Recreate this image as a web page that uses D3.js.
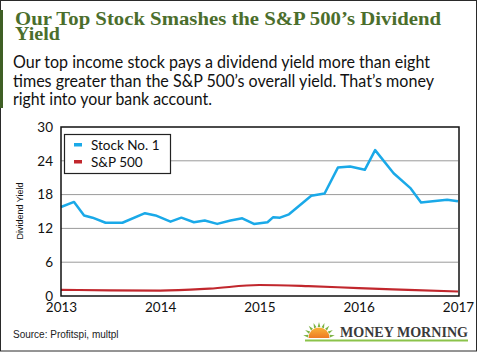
<!DOCTYPE html>
<html>
<head>
<meta charset="utf-8">
<script src="https://cdn.jsdelivr.net/npm/d3@7"></script>
<style>
  body { margin: 0; background: #fff; }
  svg { display: block; }
</style>
</head>
<body>
<div class="container"></div>
<script>
// dates of the points for Stock No. 1
var stockDates = ['2013-01-01', '2013-02-18', '2013-03-27', '2013-04-27', '2013-06-14', '2013-08-15',
    '2013-11-06', '2013-12-15', '2014-02-08', '2014-03-20', '2014-05-05', '2014-06-14',
    '2014-07-30', '2014-09-17', '2014-10-30', '2014-12-12', '2015-01-31', '2015-02-21',
    '2015-03-18', '2015-04-20', '2015-07-11', '2015-08-29', '2015-10-17', '2015-12-01',
    '2016-01-24', '2016-03-02', '2016-05-09', '2016-07-11', '2016-08-18', '2016-09-30',
    '2016-11-22', '2017-01-01'];
var stockValues = [15.8, 16.7, 14.3, 13.9, 13.0, 13.0,
    14.7, 14.3, 13.2, 13.9, 13.1, 13.4,
    12.8, 13.4, 13.8, 12.8, 13.1, 14.0,
    13.9, 14.5, 17.8, 18.2, 22.8, 23.0,
    22.4, 25.9, 21.8, 19.1, 16.6, 16.8,
    17.1, 16.8];

var spDates = ['2013-01-01', '2013-07-01', '2014-01-01', '2014-07-01', '2015-01-01',
    '2015-07-01', '2016-01-01', '2016-07-01', '2017-01-01'];
var spValues = [1.1, 1.0, 0.95, 1.3, 1.95, 1.75, 1.4, 1.1, 0.8];

var yTicks = [0, 6, 12, 18, 24, 30];
var xTickLabels = ['2013', '2014', '2015', '2016', '2017'];
var seriesNames = ['Stock No. 1', 'S&P 500'];

const WIDTH = 480;
const HEIGHT = 352;
const LEFT = 61, RIGHT = 458, TOP = 127, BOTTOM = 296;

let parse = d3.timeParse('%Y-%m-%d');
let translate = (x, y) => `translate(${x},${y})`;

let xScale = d3.scaleTime()
    .domain([parse('2013-01-01'), parse('2017-01-01')])
    .range([LEFT, RIGHT]);

let yScale = d3.scaleLinear()
    .domain([0, 30])
    .range([BOTTOM, TOP]);

let svg = d3.select('.container').append('svg')
    .attr('width', WIDTH)
    .attr('height', HEIGHT);

// frame + green accent bar
svg.append('rect')
    .attr('x', 0.5).attr('y', 0.5)
    .attr('width', 476).attr('height', 350.5)
    .attr('fill', 'none').attr('stroke', '#2a2a2a').attr('stroke-width', 1);
svg.append('rect')
    .attr('x', 0).attr('y', 10).attr('width', 3).attr('height', 98)
    .attr('fill', '#3f5f25');

// title
let title = svg.append('g')
    .attr('font-family', 'Liberation Serif, DejaVu Serif, serif')
    .attr('font-weight', 'bold')
    .attr('font-size', 19)
    .attr('fill', '#4b6e2c');
title.append('text').attr('x', 15).attr('y', 25)
    .attr('textLength', 426).attr('lengthAdjust', 'spacingAndGlyphs')
    .text('Our Top Stock Smashes the S&P 500’s Dividend');
title.append('text').attr('x', 15).attr('y', 40)
    .attr('textLength', 45).attr('lengthAdjust', 'spacingAndGlyphs')
    .text('Yield');

// subtitle
let subLines = [
    ['Our top income stock pays a dividend yield more than eight', 417, 68],
    ['times greater than the S&P 500’s overall yield. That’s money', 421, 86.5],
    ['right into your bank account.', 199, 105]
];
svg.append('g')
    .attr('font-family', 'Lato, Open Sans, sans-serif')
    .attr('font-size', 16.5)
    .attr('fill', '#111')
    .selectAll('text')
    .data(subLines)
    .enter().append('text')
    .attr('x', 13)
    .attr('y', d => d[2])
    .attr('textLength', d => d[1])
    .attr('lengthAdjust', 'spacingAndGlyphs')
    .text(d => d[0]);

// gridlines
svg.append('g').selectAll('line')
    .data(yTicks.filter(t => t > 0 && t < 30))
    .enter().append('line')
    .attr('x1', LEFT).attr('x2', RIGHT)
    .attr('y1', d => yScale(d)).attr('y2', d => yScale(d))
    .attr('stroke', '#9a9a9a').attr('stroke-width', 1);

// y axis labels
let yAxis = d3.axisLeft(yScale).tickValues(yTicks).tickSize(0).tickPadding(8);
svg.append('g')
    .attr('transform', translate(LEFT, 0))
    .call(yAxis)
    .call(g => g.select('.domain').remove())
    .selectAll('text')
    .attr('font-family', 'Lato, Open Sans, sans-serif')
    .attr('font-size', 13.5)
    .attr('fill', '#111');

// x axis labels
let xAxis = d3.axisBottom(xScale)
    .tickValues(xTickLabels.map(y => parse(y + '-01-01')))
    .tickFormat(d3.timeFormat('%Y'))
    .tickSize(0).tickPadding(6);
svg.append('g')
    .attr('transform', translate(0, BOTTOM))
    .call(xAxis)
    .call(g => g.select('.domain').remove())
    .selectAll('text')
    .attr('font-family', 'Lato, Open Sans, sans-serif')
    .attr('font-size', 13.5)
    .attr('fill', '#111');

svg.append('text')
    .attr('transform', translate(23, 211) + ' rotate(-90)')
    .attr('text-anchor', 'middle')
    .attr('font-family', 'Liberation Sans, Arial, sans-serif')
    .attr('font-size', 9)
    .attr('fill', '#111')
    .text('Dividend Yield');

// lines
let line = d3.line()
    .x(d => xScale(d.date))
    .y(d => yScale(d.value));

let stock = stockDates.map((d, i) => ({date: parse(d), value: stockValues[i]}));
let sp = spDates.map((d, i) => ({date: parse(d), value: spValues[i]}));

svg.append('path')
    .attr('d', line.curve(d3.curveMonotoneX)(sp))
    .attr('fill', 'none').attr('stroke', '#c1272d').attr('stroke-width', 2.2);

svg.append('path')
    .attr('d', line.curve(d3.curveLinear)(stock))
    .attr('fill', 'none').attr('stroke', '#1aa9e8').attr('stroke-width', 2.5)
    .attr('stroke-linejoin', 'round');

// plot border
svg.append('rect')
    .attr('x', LEFT).attr('y', TOP)
    .attr('width', RIGHT - LEFT + 1).attr('height', BOTTOM - TOP)
    .attr('fill', 'none').attr('stroke', '#111').attr('stroke-width', 1.5);

// legend
let legend = svg.append('g');
legend.append('rect')
    .attr('x', 64.5).attr('y', 134.5).attr('width', 106).attr('height', 39)
    .attr('fill', '#fff').attr('stroke', '#222').attr('stroke-width', 1.2);
let colors = ['#1aa9e8', '#c1272d'];
seriesNames.forEach((name, i) => {
    legend.append('rect')
        .attr('x', 74).attr('y', 143 + i * 17)
        .attr('width', 8).attr('height', 3.5)
        .attr('fill', colors[i]);
    legend.append('text')
        .attr('x', 91).attr('y', 150 + i * 16.7)
        .attr('font-family', 'Lato, Open Sans, sans-serif')
        .attr('font-size', 13.5)
        .attr('fill', '#111')
        .text(name);
});

// source
svg.append('text')
    .attr('x', 13).attr('y', 338)
    .attr('font-family', 'Liberation Sans, Arial, sans-serif')
    .attr('font-size', 10)
    .attr('fill', '#222')
    .text('Source: Profitspi, multpl');

// logo
let logo = svg.append('g');
let grad = svg.append('defs').append('linearGradient')
    .attr('id', 'sun').attr('x1', 0).attr('y1', 0).attr('x2', 0).attr('y2', 1);
grad.append('stop').attr('offset', '0%').attr('stop-color', '#f9b43a');
grad.append('stop').attr('offset', '100%').attr('stop-color', '#ee7a22');
let sx = 319, sy = 338;
d3.range(9).forEach(i => {
    let a = Math.PI + (i + 0.5) * Math.PI / 9;
    logo.append('path')
        .attr('d', `M${sx + 11 * Math.cos(a - 0.12)},${sy + 11 * Math.sin(a - 0.12)}` +
            `L${sx + 16 * Math.cos(a)},${sy + 16 * Math.sin(a)}` +
            `L${sx + 11 * Math.cos(a + 0.12)},${sy + 11 * Math.sin(a + 0.12)}Z`)
        .attr('fill', '#7cb342');
});
logo.append('path')
    .attr('d', d3.arc().innerRadius(0).outerRadius(10.5)
        .startAngle(-Math.PI / 2).endAngle(Math.PI / 2)())
    .attr('transform', translate(sx, sy))
    .attr('fill', 'url(#sun)');
logo.append('rect')
    .attr('x', 305).attr('y', 339.5).attr('width', 163).attr('height', 2)
    .attr('fill', '#8bc34a');
logo.append('text')
    .attr('x', 340).attr('y', 337)
    .attr('textLength', 128).attr('lengthAdjust', 'spacingAndGlyphs')
    .attr('font-family', 'Liberation Serif, DejaVu Serif, serif')
    .attr('font-weight', 'bold')
    .attr('font-size', 14)
    .attr('fill', '#3a3a3a')
    .text('MONEY MORNING');
</script>
</body>
</html>
